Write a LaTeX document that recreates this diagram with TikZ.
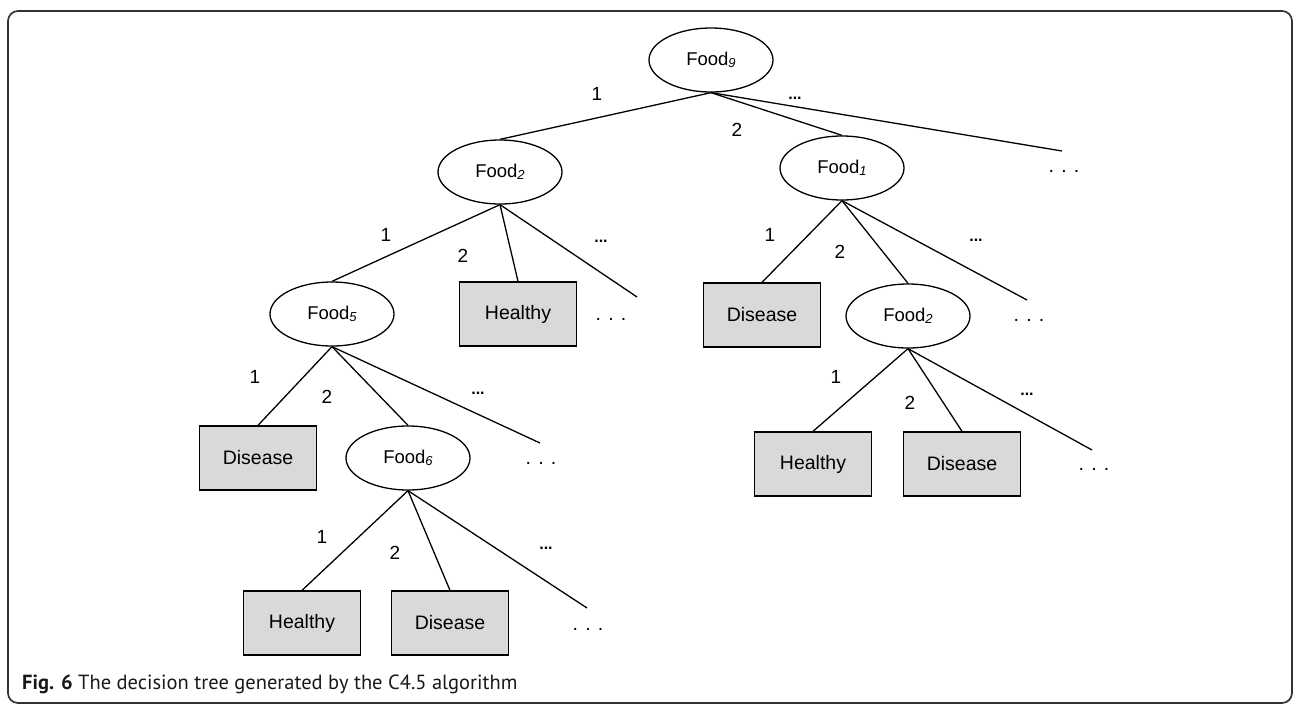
\documentclass[tikz,border=0pt]{standalone}
\usepackage{fontspec}
\setmainfont{Liberation Sans}
\newfontfamily\capfont{PT Sans}
\usetikzlibrary{shapes.geometric}

% italic index written after a food name
\newcommand\fsub[1]{\raisebox{-2.5pt}{\fontsize{13}{14}\selectfont\itshape #1}}

\begin{document}
\begin{tikzpicture}[x=1pt,y=-1pt,
  dec/.style={ellipse, draw, line width=1.3pt, minimum width=124pt,
    minimum height=64pt, inner sep=0pt, font=\fontsize{18.5}{22}\selectfont},
  leaf/.style={rectangle, draw, line width=1.3pt, fill=black!15,
    minimum width=117pt, minimum height=64pt, inner sep=0pt,
    font=\fontsize{19.5}{22}\selectfont},
  branch/.style={line width=1.3pt},
  lbl/.style={font=\fontsize{19}{20}\selectfont, inner sep=0pt},
  more/.style={font=\bfseries\fontsize{16}{18}\selectfont, inner sep=0pt},
  etc/.style={font=\fontsize{19.5}{22}\selectfont, inner sep=0pt}
]
\useasboundingbox (0,0) rectangle (1296,707);

% outer frame
\draw[rounded corners=10pt, line width=1.7pt, black!80] (8,11) rectangle (1292,703);

% decision nodes and leaves
\node[dec]  (f9)  at (711,60)  {Food\fsub{9}};
\node[dec]  (f2a) at (500,172) {Food\fsub{2}};
\node[dec]  (f1)  at (842,168) {Food\fsub{1}};
\node[dec]  (f5)  at (332,314) {Food\fsub{5}};
\node[leaf] (h1)  at (518,314) {Healthy};
\node[leaf] (d1)  at (762,315) {Disease};
\node[dec]  (f2b) at (908,316) {Food\fsub{2}};
\node[leaf] (d2)  at (258,458) {Disease};
\node[dec]  (f6)  at (408,458) {Food\fsub{6}};
\node[leaf] (h2)  at (813,464) {Healthy};
\node[leaf] (d3)  at (962,464) {Disease};
\node[leaf] (h3)  at (302,623) {Healthy};
\node[leaf] (d4)  at (450,623) {Disease};

% open ends of the remaining branches
\coordinate (e9)  at (1062,151); \node[etc] (t9)  at (1064,171) {. . .};
\coordinate (e2a) at (637,297);  \node[etc] (t2a) at (611,319) {. . .};
\coordinate (e1)  at (1027,300); \node[etc] (t1)  at (1029,320) {. . .};
\coordinate (e5)  at (540,443);  \node[etc] (t5)  at (541,463) {. . .};
\coordinate (e2b) at (1092,450); \node[etc] (t2b) at (1094,469) {. . .};
\coordinate (e6)  at (587,608);  \node[etc] (t6)  at (588,629) {. . .};

% branches
\draw[branch] (f9.south) -- (f2a.north);
\draw[branch] (f9.south) -- (f1.north);
\draw[branch] (f9.south) -- (e9);
\draw[branch] (f2a.south) -- (f5.north);
\draw[branch] (f2a.south) -- (h1.north);
\draw[branch] (f2a.south) -- (e2a);
\draw[branch] (f1.south) -- (d1.north);
\draw[branch] (f1.south) -- (f2b.north);
\draw[branch] (f1.south) -- (e1);
\draw[branch] (f5.south) -- (d2.north);
\draw[branch] (f5.south) -- (f6.north);
\draw[branch] (f5.south) -- (e5);
\draw[branch] (f2b.south) -- (h2.north);
\draw[branch] (f2b.south) -- (d3.north);
\draw[branch] (f2b.south) -- (e2b);
\draw[branch] (f6.south) -- (h3.north);
\draw[branch] (f6.south) -- (d4.north);
\draw[branch] (f6.south) -- (e6);

% branch values
\node[lbl]  (l9a) at (597,94)  {1};
\node[lbl]  (l9b) at (737,130) {2};
\node[more] (l9c) at (795,98)  {...};
\node[lbl]  (l2a) at (386,235) {1};
\node[lbl]  (l2b) at (463,256) {2};
\node[more] (l2c) at (601,241) {...};
\node[lbl]  (l1a) at (770,235) {1};
\node[lbl]  (l1b) at (840,252) {2};
\node[more] (l1c) at (976,240) {...};
\node[lbl]  (l5a) at (255,377) {1};
\node[lbl]  (l5b) at (327,397) {2};
\node[more] (l5c) at (478,393) {...};
\node[lbl]  (lba) at (836,377) {1};
\node[lbl]  (lbb) at (910,403) {2};
\node[more] (lbc) at (1027,394) {...};
\node[lbl]  (l6a) at (322,537) {1};
\node[lbl]  (l6b) at (395,553) {2};
\node[more] (l6c) at (546,548) {...};

% caption
\node[anchor=base west, inner sep=0pt, text=black!90,
  font=\capfont\fontsize{20.5}{24}\selectfont] (cap) at (22,689)
  {\textbf{Fig. 6} The decision tree generated by the C4.5 algorithm};
\end{tikzpicture}
\end{document}
